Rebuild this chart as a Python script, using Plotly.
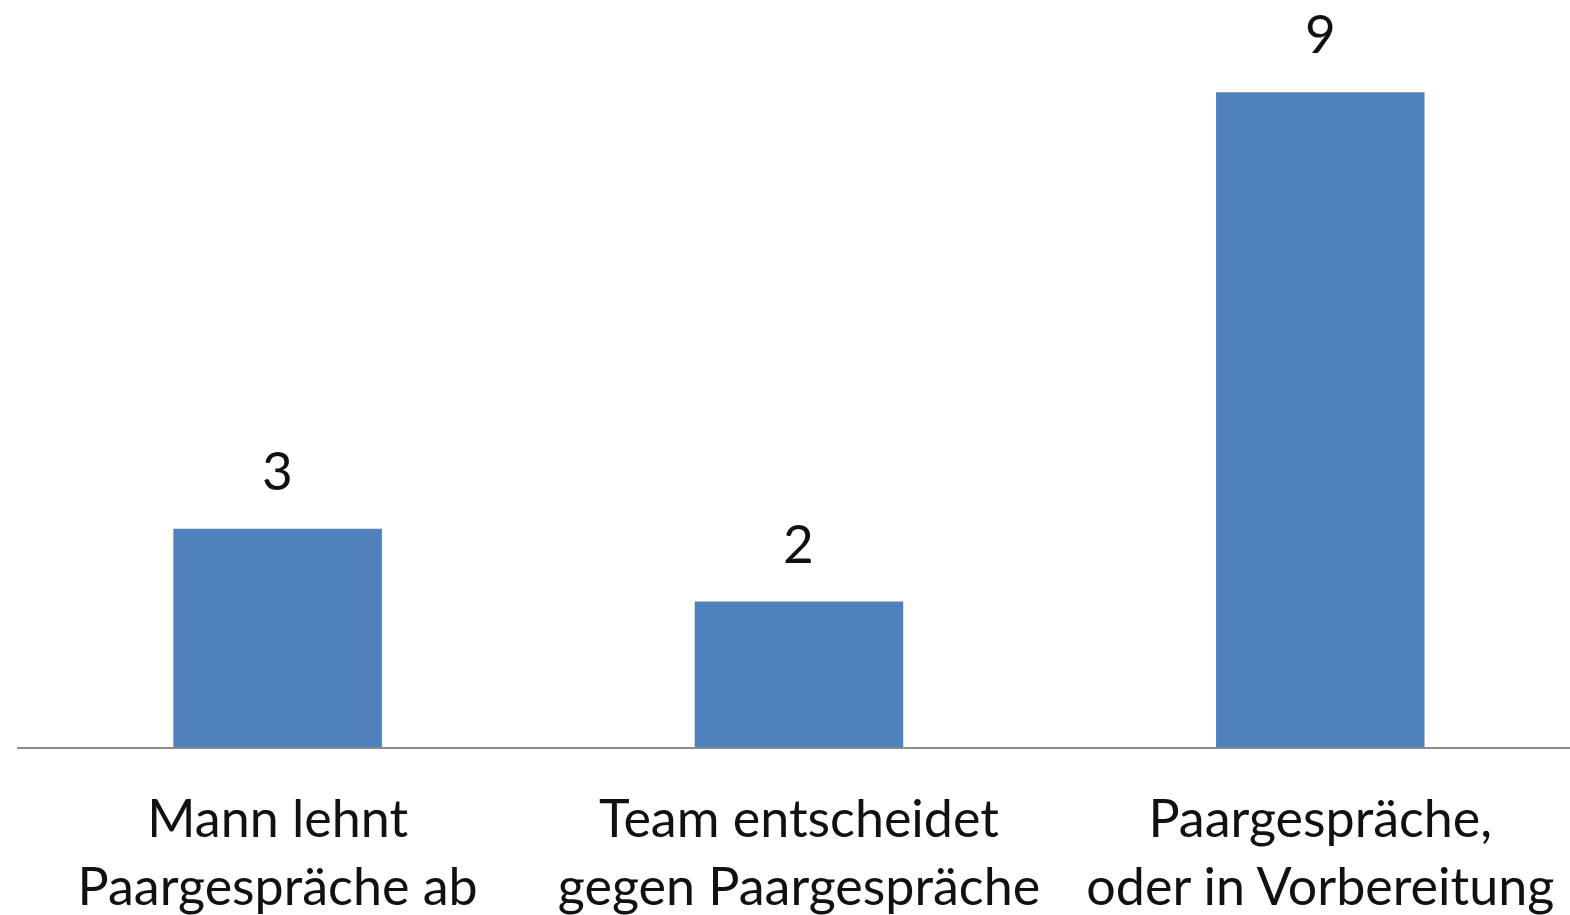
import plotly.graph_objects as go

categories = ["Mann lehnt<br>Paargespräche ab", "Team entscheidet<br>gegen Paargespräche", "Paargespräche,<br>oder in Vorbereitung"]
values = [3, 2, 9]
value_labels = ["3", "2", "9"]

FONT = "Lato"
fig = go.Figure()
fig.add_trace(go.Bar(
    x=categories, y=values, width=0.4,
    marker=dict(color="#4F81BD", line=dict(width=0)),
    hoverinfo="skip",
))
for c, v, t in zip(categories, values, value_labels):
    fig.add_annotation(x=c, y=v, text=t, showarrow=False, yanchor="bottom",
                       yshift=26, font=dict(family=FONT, size=53, color="#111111"))

fig.update_layout(
    width=1570, height=915,
    margin=dict(l=17, r=0, t=0, b=168),
    paper_bgcolor="white", plot_bgcolor="white",
    showlegend=False,
    bargap=0.6,
    font=dict(family=FONT, size=52, color="#111111"),
)
fig.update_xaxes(
    range=[-0.5, 2.479],
    showline=True, linecolor="#8C8C8C", linewidth=2,
    showgrid=False, ticks="", tickfont=dict(family=FONT, size=52, color="#111111"),
    ticklabelstandoff=26,
)
fig.update_yaxes(range=[0, 10.27], visible=False, showgrid=False)

fig.write_html("out.html")
